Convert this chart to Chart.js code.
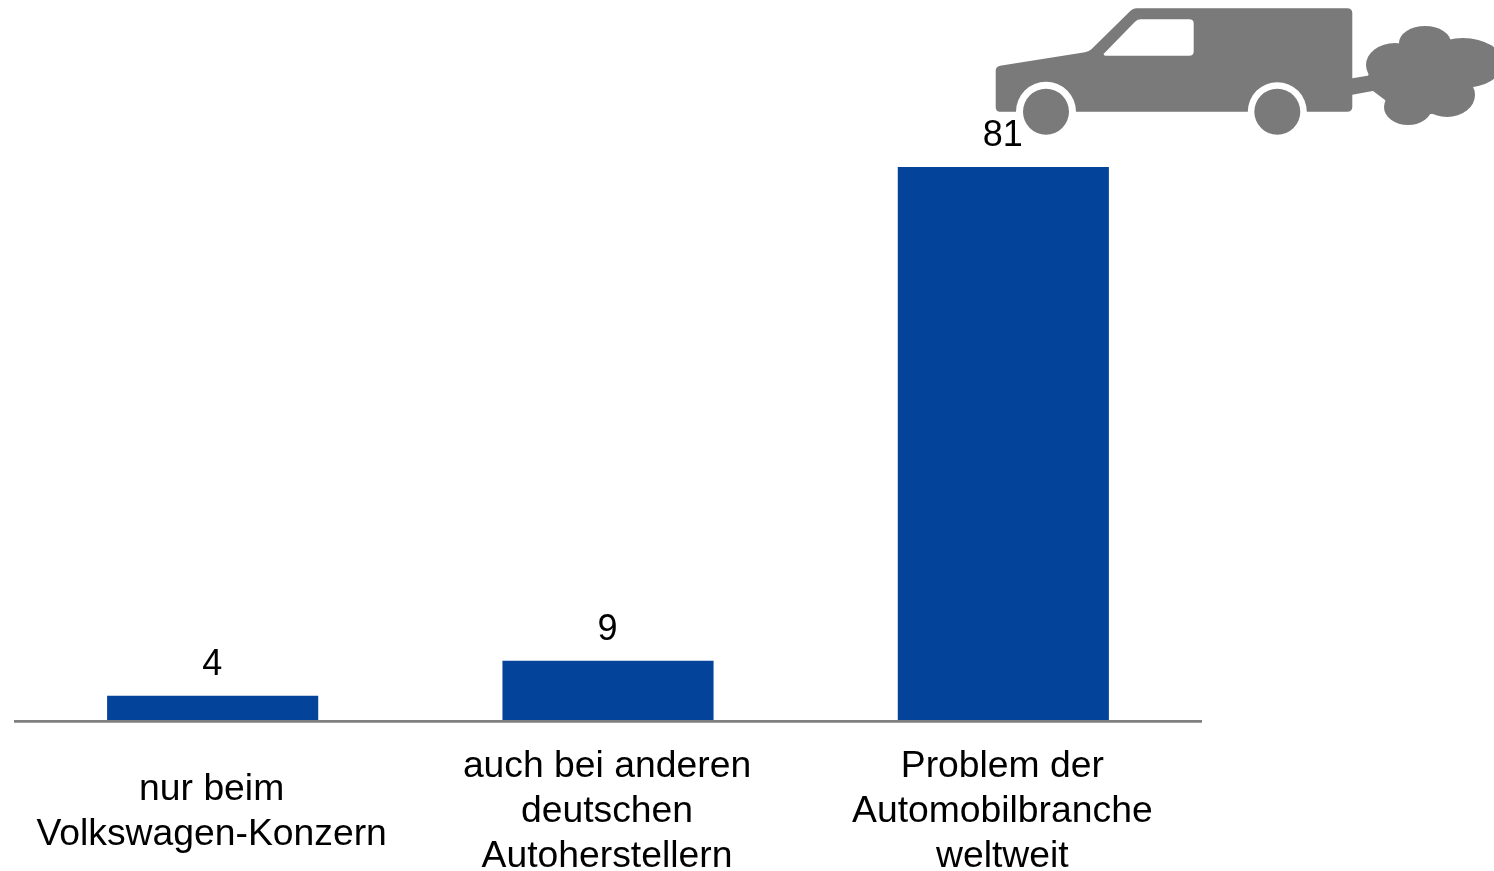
<!DOCTYPE html>
<html>
<head>
<meta charset="utf-8">
<title>Abgasskandal</title>
<script src="https://cdn.jsdelivr.net/npm/chart.js@4"></script>
<style>
html, body { margin: 0; padding: 0; background: #fff; overflow: hidden; }
canvas { display: block; }
</style>
</head>
<body>
<canvas id="myChart" width="1494" height="871"></canvas>
<script>
var categorias = [
  ['nur beim', 'Volkswagen-Konzern'],
  ['auch bei anderen', 'deutschen', 'Autoherstellern'],
  ['Problem der', 'Automobilbranche', 'weltweit']
];
// bar heights as measured, the printed labels are the rounded values
var valores = [3.7, 8.8, 81];
var etiquetas = ['4', '9', '81'];
var yMax = 105.4;

var fuente = '"Liberation Sans", Arial, sans-serif';
var gris = '#7a7a7a';

// value labels above the bars
var pluginEtiquetas = {
  id: 'etiquetas',
  afterDatasetsDraw: function(chart) {
    var ctx = chart.ctx;
    var meta = chart.getDatasetMeta(0);
    ctx.save();
    ctx.font = '36px ' + fuente;
    ctx.fillStyle = '#000';
    ctx.textAlign = 'center';
    ctx.textBaseline = 'alphabetic';
    meta.data.forEach(function(bar, i) {
      ctx.fillText(etiquetas[i], bar.x - 0.5, bar.y - 21);
    });
    ctx.restore();
  }
};

// the little van with its exhaust cloud, top right
var pluginAuto = {
  id: 'auto',
  afterDraw: function(chart) {
    var ctx = chart.ctx;
    ctx.save();
    ctx.fillStyle = gris;

    ctx.beginPath();
    ctx.moveTo(995.7, 71);
    ctx.quadraticCurveTo(995.7, 66.5, 1000, 65.7);
    ctx.lineTo(1085, 52.3);
    ctx.quadraticCurveTo(1089, 51.5, 1091.7, 49);
    ctx.lineTo(1129, 12.3);
    ctx.quadraticCurveTo(1132.5, 8.3, 1137, 8.3);
    ctx.lineTo(1347, 8.3);
    ctx.quadraticCurveTo(1352.3, 8.3, 1352.3, 13.3);
    ctx.lineTo(1352.3, 78.3);
    ctx.lineTo(1372, 75);
    ctx.lineTo(1374, 90.7);
    ctx.lineTo(1352.3, 94.7);
    ctx.lineTo(1352.3, 106.7);
    ctx.quadraticCurveTo(1352.3, 111.7, 1347, 111.7);
    ctx.lineTo(1307, 111.7);
    ctx.arc(1277.3, 111.7, 29.5, 0, Math.PI, true);
    ctx.lineTo(1076, 111.7);
    ctx.arc(1046, 111.7, 30, 0, Math.PI, true);
    ctx.lineTo(1000, 111.7);
    ctx.quadraticCurveTo(995.7, 111.7, 995.7, 107);
    ctx.closePath();
    ctx.fill();

    // wheels
    ctx.beginPath();
    ctx.arc(1046, 111.7, 23, 0, Math.PI * 2);
    ctx.arc(1277.3, 111.7, 23, 0, Math.PI * 2);
    ctx.fill();

    // window
    ctx.fillStyle = '#fff';
    ctx.beginPath();
    ctx.moveTo(1104, 53.5);
    ctx.lineTo(1135, 21.7);
    ctx.quadraticCurveTo(1137.5, 19.3, 1141, 19.3);
    ctx.lineTo(1189, 19.3);
    ctx.quadraticCurveTo(1193.7, 19.3, 1193.7, 23.5);
    ctx.lineTo(1193.7, 51.5);
    ctx.quadraticCurveTo(1193.7, 55.7, 1189, 55.7);
    ctx.lineTo(1106, 55.7);
    ctx.quadraticCurveTo(1103, 55.7, 1104, 53.5);
    ctx.fill();

    // cloud
    ctx.fillStyle = gris;
    var nube = [
      [1425, 43, 26, 17],
      [1395, 65, 29, 22],
      [1463, 63, 40, 25],
      [1408, 107, 24, 18],
      [1447, 95, 28, 22]
    ];
    nube.forEach(function(e) {
      ctx.beginPath();
      ctx.ellipse(e[0], e[1], e[2], e[3], 0, 0, Math.PI * 2);
      ctx.fill();
    });
    // fill between the puffs
    var relleno = [[1368, 75], [1372.7, 90.7], [1385, 100], [1395, 115], [1432, 114], [1447, 115], [1465, 90], [1450, 40], [1400, 44]];
    ctx.beginPath();
    relleno.forEach(function(p, i) {
      if (i == 0) ctx.moveTo(p[0], p[1]);
      else ctx.lineTo(p[0], p[1]);
    });
    ctx.closePath();
    ctx.fill();
    ctx.restore();
  }
};

var ctx = document.getElementById('myChart').getContext('2d');
var myChart = new Chart(ctx, {
  type: 'bar',
  data: {
    labels: categorias,
    datasets: [{
      data: valores,
      backgroundColor: '#03449a',
      borderWidth: 0,
      barPercentage: 0.534,
      categoryPercentage: 1
    }]
  },
  options: {
    responsive: false,
    animation: false,
    layout: { padding: { left: 15, right: 293, top: 0, bottom: 0 } },
    plugins: {
      legend: { display: false },
      title: { display: false },
      tooltip: { enabled: false }
    },
    scales: {
      y: { display: false, min: 0, max: yMax },
      x: {
        afterFit: function(scale) {
          scale.height = 150;
          // keep the long first label from pushing the chart area in
          scale.paddingLeft = 0;
          scale.paddingRight = 0;
        },
        grid: { display: false, drawTicks: false },
        border: { display: true, color: '#808080', width: 2.7, z: 1 },
        ticks: {
          color: '#000',
          maxRotation: 0,
          autoSkip: false,
          padding: 46,
          labelOffset: -1,
          crossAlign: 'center',
          font: { family: fuente, size: 37.3, lineHeight: 1.206 }
        }
      }
    }
  },
  plugins: [pluginEtiquetas, pluginAuto]
});
</script>
</body>
</html>
